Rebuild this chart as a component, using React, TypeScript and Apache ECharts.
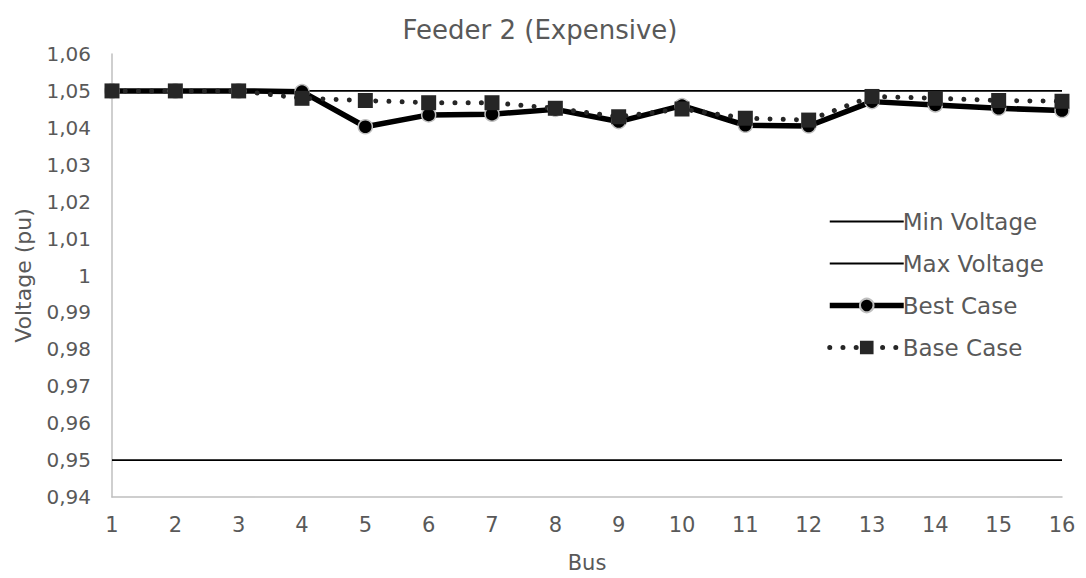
import React, { useEffect, useRef } from "react";
import * as echarts from "echarts";

const buses = ["1","2","3","4","5","6","7","8","9","10","11","12","13","14","15","16"];
const minVoltage = [0.95,0.95,0.95,0.95,0.95,0.95,0.95,0.95,0.95,0.95,0.95,0.95,0.95,0.95,0.95,0.95];
const maxVoltage = [1.05,1.05,1.05,1.05,1.05,1.05,1.05,1.05,1.05,1.05,1.05,1.05,1.05,1.05,1.05,1.05];
const bestCase = [1.05,1.05,1.05,1.0498,1.0403,1.0435,1.0437,1.0450,1.0417,1.0460,1.0407,1.0405,1.0471,1.0462,1.0453,1.0447];
const baseCase = [1.05,1.05,1.05,1.0480,1.0474,1.0468,1.0468,1.0453,1.0430,1.0451,1.0426,1.0421,1.0485,1.0480,1.0474,1.0472];

const FONT = "'DejaVu Sans', sans-serif";
const GRAY = "#595959";

export default function App() {
  const ref = useRef<HTMLDivElement>(null);
  useEffect(() => {
    if (!ref.current) return;
    const chart = echarts.init(ref.current, null, { renderer: "svg" });
    const hidden = { color: "rgba(0,0,0,0)", borderWidth: 0, opacity: 0 };
    chart.setOption({
      animation: false,
      backgroundColor: "#fff",
      textStyle: { fontFamily: FONT },
      title: {
        text: "Feeder 2 (Expensive)",
        left: 535,
        top: 12,
        textAlign: "center",
        textStyle: { fontFamily: FONT, fontSize: 26, fontWeight: "normal", color: GRAY },
      },
      legend: {
        orient: "vertical",
        left: 822,
        top: 204,
        itemWidth: 74,
        itemHeight: 17,
        itemGap: 17,
        textStyle: { fontFamily: FONT, fontSize: 23, lineHeight: 25, color: GRAY, padding: [0, 0, 0, -6] },
        data: [
          { name: "Min Voltage", itemStyle: hidden, lineStyle: { width: 1.8, color: "#000" } },
          { name: "Max Voltage", itemStyle: hidden, lineStyle: { width: 1.8, color: "#000" } },
          { name: "Best Case", lineStyle: { width: 5.5, color: "#000" } },
          { name: "Base Case", lineStyle: { width: 5, color: "#262626", type: [0.01, 13.2], cap: "round" } },
        ],
      },
      grid: { left: 112, right: 24, top: 54, bottom: 81, containLabel: false },
      xAxis: {
        type: "category",
        data: buses,
        boundaryGap: false,
        name: "Bus",
        nameLocation: "middle",
        nameGap: 55,
        nameTextStyle: { fontFamily: FONT, fontSize: 21, color: GRAY },
        axisLine: { lineStyle: { color: "#bfbfbf", width: 1.5 } },
        axisTick: { show: false },
        axisLabel: { fontFamily: FONT, fontSize: 21, color: GRAY, margin: 17 },
        splitLine: { show: false },
      },
      yAxis: {
        type: "value",
        min: 0.94,
        max: 1.06,
        interval: 0.01,
        name: "Voltage (pu)",
        nameLocation: "middle",
        nameGap: 78,
        nameTextStyle: { fontFamily: FONT, fontSize: 22, color: GRAY },
        axisLine: { show: true, lineStyle: { color: "#bfbfbf", width: 1.5 } },
        axisTick: { show: false },
        splitLine: { show: false },
        axisLabel: {
          fontFamily: FONT,
          fontSize: 20,
          color: GRAY,
          margin: 21,
          formatter: (v: number) => {
            let s = v.toFixed(2);
            s = s.replace(/0+$/, "").replace(/\.$/, "");
            return s.replace(".", ",");
          },
        },
      },
      series: [
        {
          name: "Min Voltage",
          type: "line",
          data: minVoltage,
          symbol: "none",
          lineStyle: { color: "#000", width: 1.8 },
          itemStyle: { color: "#000" },
        },
        {
          name: "Max Voltage",
          type: "line",
          data: maxVoltage,
          symbol: "none",
          lineStyle: { color: "#000", width: 1.8 },
          itemStyle: { color: "#000" },
        },
        {
          name: "Best Case",
          type: "line",
          data: bestCase,
          symbol: "circle",
          symbolSize: 14,
          lineStyle: { color: "#000", width: 5.5 },
          itemStyle: { color: "#000", borderColor: "#bfbfbf", borderWidth: 1.5 },
        },
        {
          name: "Base Case",
          type: "line",
          data: baseCase,
          symbol: "rect",
          symbolSize: 15,
          lineStyle: { color: "#262626", width: 5, type: [0.01, 13.2], cap: "round" },
          itemStyle: { color: "#262626" },
        },
      ],
    });
    return () => chart.dispose();
  }, []);
  return (
    <div
      ref={ref}
      style={{ position: "fixed", left: 0, top: 0, width: 1086, height: 578 }}
    />
  );
}
